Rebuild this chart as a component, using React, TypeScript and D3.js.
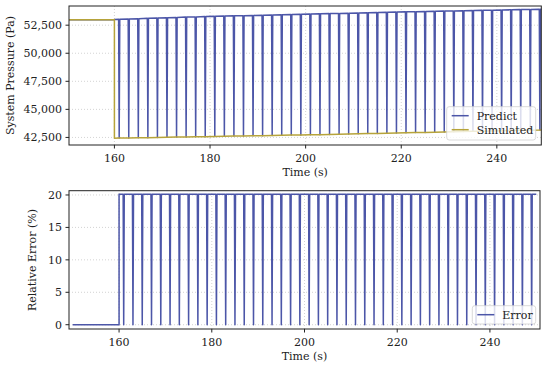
import React from 'react'
import * as d3 from 'd3'

// times (s) at which the prediction drops to the simulated value
const dropTimes = [161, 163, 165, 167, 169, 171, 173, 175, 177, 179, 181, 183, 185, 187, 189, 191, 193, 195, 197, 199,
  201, 203, 205, 207, 209, 211, 213, 215, 217, 219, 221, 223, 225, 227, 229, 231, 233, 235, 237, 239,
  241, 243, 245, 247, 249]
// simulated pressure at each drop (Pa)
const simulatedAtDrop = [42440, 42450, 42470, 42480, 42500, 42510, 42530, 42540, 42560, 42570, 42590, 42600, 42620, 42630, 42650, 42660, 42680, 42690, 42710, 42720,
  42740, 42750, 42770, 42790, 42810, 42820, 42840, 42860, 42870, 42890, 42910, 42930, 42950, 42960, 42980, 43000, 43020, 43040, 43050, 43070,
  43090, 43110, 43130, 43140, 43160]
// predicted pressure just before each drop (Pa)
const predictAtDrop = [53020, 53050, 53080, 53110, 53140, 53170, 53190, 53220, 53240, 53270, 53290, 53310, 53330, 53350, 53370, 53390, 53410, 53430, 53450, 53470,
  53490, 53510, 53530, 53550, 53570, 53590, 53610, 53630, 53650, 53670, 53690, 53700, 53720, 53740, 53760, 53770, 53790, 53810, 53820, 53840,
  53860, 53870, 53890, 53900, 53920]
const startTime = 150
const stepTime = 160
const endTime = 250
const pressureBefore = 52980
const simulatedAfterStep = 42430
const simulatedEnd = 43180
const predictAfterStep = 53000
const predictEnd = 53930
const errorBefore = 0
const errorAfter = 20.1
const errorAtDrop = 0

const pressureTicks = [42500, 45000, 47500, 50000, 52500]
const errorTicks = [0, 5, 10, 15, 20]
const timeTicks = [160, 180, 200, 220, 240]

const W = 550
const H = 367
const FONT = '"DejaVu Serif", serif'
const PRED = '#4c56a8'
const SIM = '#b6a33a'
const HW = 0.12 // half width of a drop, in seconds

type Pt = [number, number]

function Legend({ x, y, w, h, items }: { x: number; y: number; w: number; h: number; items: { label: string; color: string }[] }) {
  return (
    <g>
      <rect x={x} y={y} width={w} height={h} rx={2.5} fill="white" fillOpacity={0.8} stroke="#d0d0d0" strokeWidth={0.8} />
      {items.map((it, i) => {
        const cy = y + 9 + i * 14
        return (
          <g key={it.label}>
            <line x1={x + 5} x2={x + 22} y1={cy} y2={cy} stroke={it.color} strokeWidth={1.5} />
            <text x={x + 30} y={cy + 4} fontSize={11} fontFamily={FONT} fill="#222">{it.label}</text>
          </g>
        )
      })}
    </g>
  )
}

function Panel({ x, y, yTicks, fmt, yLabel, lines, legend }: any) {
  const [x0, x1] = x.range()
  const [y0, y1] = y.range()
  return (
    <g>
      {/* grid */}
      {x.ticks && timeTicks.map((t) => (
        <line key={'gx' + t} x1={x(t)} x2={x(t)} y1={y0} y2={y1} stroke="#c8c8c8" strokeWidth={0.8} strokeDasharray="1,2" />
      ))}
      {yTicks.map((t: number) => (
        <line key={'gy' + t} x1={x0} x2={x1} y1={y(t)} y2={y(t)} stroke="#c8c8c8" strokeWidth={0.8} strokeDasharray="1,2" />
      ))}
      <clipPath id={'clip' + yLabel.length}>
        <rect x={x0} y={y1} width={x1 - x0} height={y0 - y1} />
      </clipPath>
      <g clipPath={`url(#clip${yLabel.length})`}>
        {lines.map((l: any, i: number) => (
          <path key={i} d={d3.line().x((d: Pt) => x(d[0])).y((d: Pt) => y(d[1]))(l.data) || ''} fill="none" stroke={l.color} strokeWidth={1.5} strokeLinejoin="round" />
        ))}
      </g>
      <rect x={x0} y={y1} width={x1 - x0} height={y0 - y1} fill="none" stroke="#222" strokeWidth={1} />
      {timeTicks.map((t) => (
        <g key={'tx' + t}>
          <line x1={x(t)} x2={x(t)} y1={y0} y2={y0 + 3.5} stroke="#222" />
          <text x={x(t)} y={y0 + 16.5} fontSize={11} fontFamily={FONT} textAnchor="middle" fill="#222">{t}</text>
        </g>
      ))}
      {yTicks.map((t: number) => (
        <g key={'ty' + t}>
          <line x1={x0 - 3.5} x2={x0} y1={y(t)} y2={y(t)} stroke="#222" />
          <text x={x0 - 7} y={y(t) + 4} fontSize={11} fontFamily={FONT} textAnchor="end" fill="#222">{fmt(t)}</text>
        </g>
      ))}
      <text x={(x0 + x1) / 2} y={y0 + 31} fontSize={11} fontFamily={FONT} textAnchor="middle" fill="#222">Time (s)</text>
      {legend}
    </g>
  )
}

export default function App() {
  const xTop = d3.scaleLinear().domain([150.5, 249.3]).range([69, 541.3])
  const yTop = d3.scaleLinear().domain([41826, 54209]).range([145, 6])
  const xBot = d3.scaleLinear().domain([149.2, 250.8]).range([69, 540])
  const yBot = d3.scaleLinear().domain([-0.66, 20.66]).range([329, 190.7])

  const predict: Pt[] = [[startTime, pressureBefore], [stepTime, pressureBefore], [stepTime, predictAfterStep]]
  dropTimes.forEach((t, i) => {
    predict.push([t - HW, predictAtDrop[i]], [t, simulatedAtDrop[i]], [t + HW, predictAtDrop[i]])
  })
  predict.push([endTime, predictEnd])

  const simulated: Pt[] = [[startTime, pressureBefore], [stepTime, pressureBefore], [stepTime, simulatedAfterStep]]
  dropTimes.forEach((t, i) => simulated.push([t, simulatedAtDrop[i]]))
  simulated.push([endTime, simulatedEnd])

  const error: Pt[] = [[startTime, errorBefore], [stepTime, errorBefore], [stepTime, errorAfter]]
  dropTimes.forEach((t) => {
    error.push([t - HW, errorAfter], [t, errorAtDrop], [t + HW, errorAfter])
  })
  error.push([endTime, errorAfter])

  const fmtP = d3.format(',')
  return (
    <svg width={W} height={H} style={{ position: 'absolute', left: 0, top: 0, background: 'white' }}>
      <Panel x={xTop} y={yTop} yTicks={pressureTicks} fmt={fmtP} yLabel="System Pressure (Pa)"
        lines={[{ data: predict, color: PRED }, { data: simulated, color: SIM }]}
        legend={<Legend x={446.7} y={106.7} w={89} h={33.3} items={[{ label: 'Predict', color: PRED }, { label: 'Simulated', color: SIM }]} />} />
      <text transform="translate(14,75.5) rotate(-90)" fontSize={11} fontFamily={FONT} textAnchor="middle" fill="#222">System Pressure (Pa)</text>
      <Panel x={xBot} y={yBot} yTicks={errorTicks} fmt={(d: number) => String(d)} yLabel="Relative Error (%)"
        lines={[{ data: error, color: PRED }]}
        legend={<Legend x={472.3} y={305.7} w={63.4} h={18.3} items={[{ label: 'Error', color: PRED }]} />} />
      <text transform="translate(36,260) rotate(-90)" fontSize={11} fontFamily={FONT} textAnchor="middle" fill="#222">Relative Error (%)</text>
    </svg>
  )
}
